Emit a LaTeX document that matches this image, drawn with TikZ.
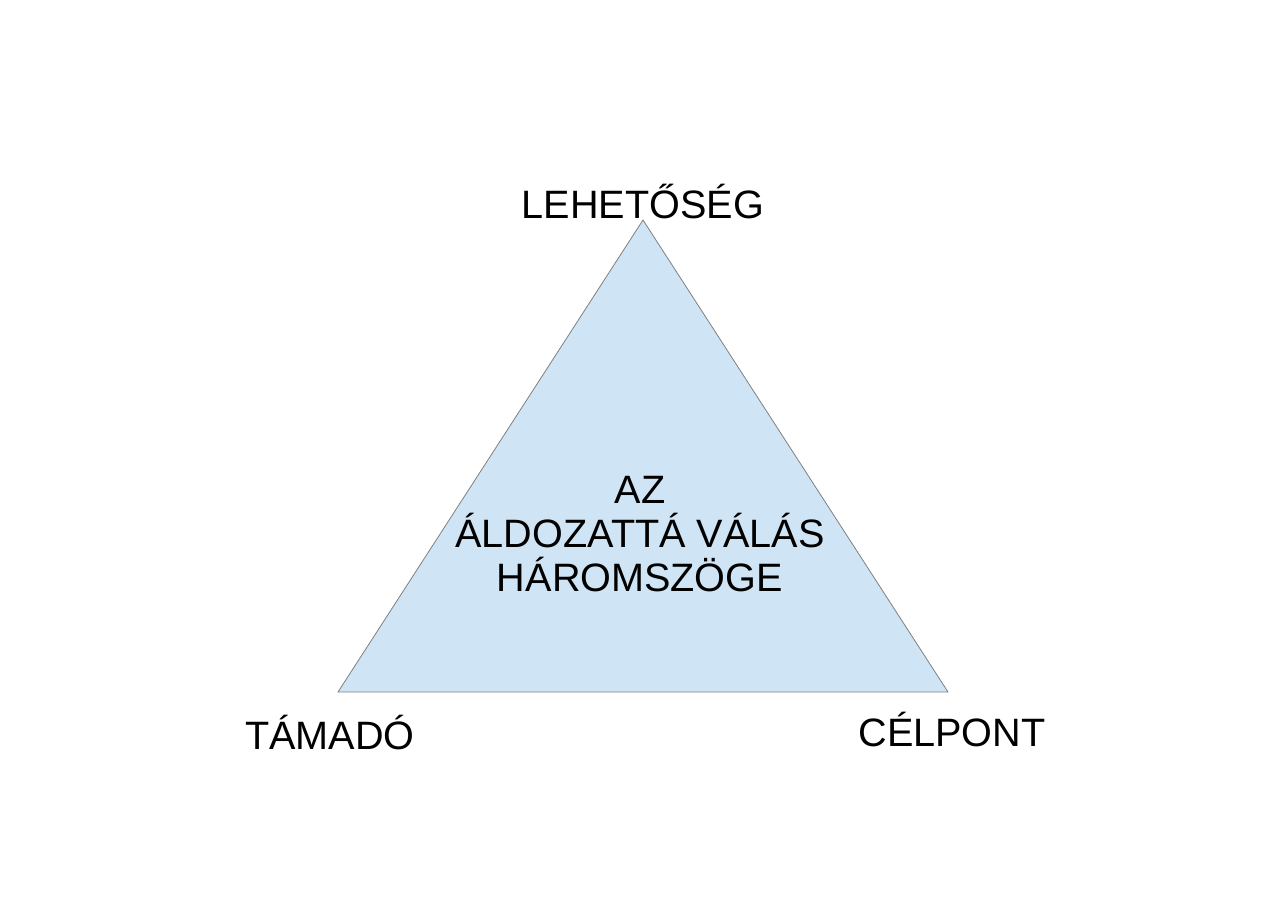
\documentclass[tikz,border=0pt]{standalone}
\usepackage{fontspec}
\setmainfont{Liberation Sans}
\usepackage{xcolor}
\usepackage{tikz}
\usetikzlibrary{positioning,calc}
\definecolor{trifill}{HTML}{CFE5F5}
\definecolor{triline}{HTML}{7F7F7F}
\tikzset{
  corner/.style={font=\fontsize{39.6}{44}\selectfont, inner sep=0pt, anchor=base},
  midtxt/.style={font=\fontsize{39.6}{44}\selectfont, align=center, inner sep=0pt},
  tri/.style={draw=triline, line width=0.8pt, fill=trifill, line join=miter},
}

\begin{document}
\begin{tikzpicture}[x=1pt, y=-1pt]
    \useasboundingbox (0,0) rectangle (1286,910);
    \coordinate (top) at (643,220);
    \coordinate (bl)  at (338,692);
    \coordinate (br)  at (948,692);
    \draw[tri] (top) -- (bl) -- (br) -- cycle;
    \node[corner] (lehet) at (643,218) {LEHETŐSÉG};
    \node[corner] (tamado) at (330,749) {TÁMADÓ};
    \node[corner] (cel) at (952,746) {CÉLPONT};
    \node[midtxt] (mid) at (640,534) {AZ\\ÁLDOZATTÁ VÁLÁS\\HÁROMSZÖGE};
  \end{tikzpicture}
\end{document}
